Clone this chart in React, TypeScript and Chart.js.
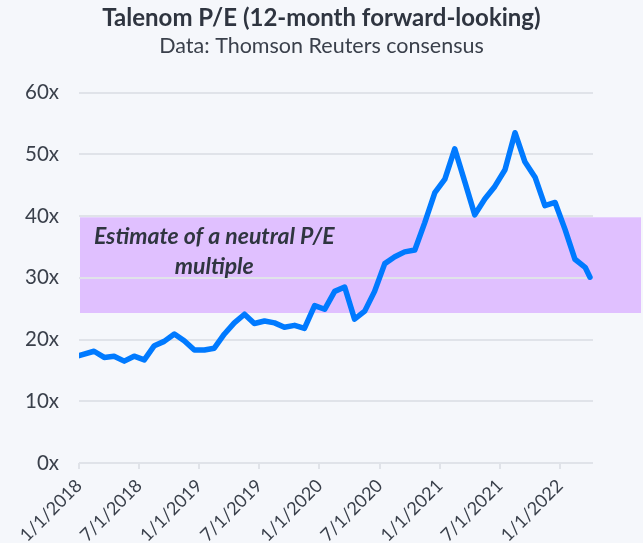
import React, { useEffect, useRef } from "react";
import { Chart, registerables } from "chart.js";

Chart.register(...registerables);

const TITLE = "Talenom P/E (12-month forward-looking)";
const SUBTITLE = "Data: Thomson Reuters consensus";
const BAND_LABEL = ["Estimate of a neutral P/E", "multiple"];
const BAND_RANGE = [24.3, 39.8];

// P/E readings: 1 Jan 2018, then mid-month Feb 2018 .. Mar 2022, then latest value (1 Apr 2022)
const peValues = [
  17.4, 18.1, 17.1, 17.3, 16.5, 17.3, 16.7, 19.0, 19.7, 20.9,
  19.8, 18.3, 18.3, 18.6, 20.9, 22.7, 24.1, 22.6, 23.0, 22.7,
  22.0, 22.3, 21.8, 25.5, 24.9, 27.8, 28.5, 23.3, 24.6, 27.8,
  32.3, 33.4, 34.2, 34.5, 38.9, 43.8, 46.0, 50.9, 45.5, 40.2,
  42.8, 44.8, 47.5, 53.5, 48.8, 46.3, 41.7, 42.2, 37.8, 33.0,
  31.7, 30.1,
];
const FIRST_DATE = "2018-01-01";
const LAST_DATE = "2022-04-01";
const START_YEAR = 2018;

const xTickLabels = [
  "1/1/2018", "7/1/2018", "1/1/2019", "7/1/2019", "1/1/2020",
  "7/1/2020", "1/1/2021", "7/1/2021", "1/1/2022",
];
const xTickMonths = [0, 6, 12, 18, 24, 30, 36, 42, 48];
const X_MAX_MONTH = 51.3;

const yTicks = [0, 10, 20, 30, 40, 50, 60];

const BG = "#F5F7FB";
const BAND_COLOR = "#E0C0FF";
const LINE_COLOR = "#007AFF";
const GRID_COLOR = "#E0E3E9";
const TEXT_DARK = "#2F3540";
const TEXT = "#3A404B";
const FONT = "Lato, 'Open Sans', sans-serif";

function monthOffset(dateStr: string): number {
  const [y, m, d] = dateStr.split("-").map(Number);
  const dim = new Date(y, m, 0).getDate();
  return (y - START_YEAR) * 12 + (m - 1) + (d - 1) / dim;
}

function buildPoints() {
  const pts: { x: number; y: number }[] = [];
  for (let i = 0; i < peValues.length; i++) {
    let dateStr: string;
    if (i === 0) {
      dateStr = FIRST_DATE;
    } else if (i === peValues.length - 1) {
      dateStr = LAST_DATE;
    } else {
      const y = START_YEAR + Math.floor(i / 12);
      const m = (i % 12) + 1;
      const dim = new Date(y, m, 0).getDate();
      const day = Math.round(dim / 2) + 1;
      dateStr = `${y}-${String(m).padStart(2, "0")}-${String(day).padStart(2, "0")}`;
    }
    pts.push({ x: monthOffset(dateStr), y: peValues[i] });
  }
  return pts;
}

const bandPlugin = {
  id: "neutralBand",
  beforeDraw(chart: any) {
    const { ctx, chartArea, scales } = chart;
    const y = scales.y;
    ctx.save();
    ctx.fillStyle = BG;
    ctx.fillRect(0, 0, chart.width, chart.height);
    const top = y.getPixelForValue(BAND_RANGE[1]);
    const bottom = y.getPixelForValue(BAND_RANGE[0]);
    ctx.fillStyle = BAND_COLOR;
    ctx.fillRect(chartArea.left + 1, top, chart.width - 2 - (chartArea.left + 1), bottom - top);
    ctx.restore();
  },
  afterDatasetsDraw(chart: any) {
    const { ctx, scales } = chart;
    const cx = scales.x.getPixelForValue(13.5);
    ctx.save();
    ctx.fillStyle = TEXT_DARK;
    ctx.font = `italic bold 23px ${FONT}`;
    ctx.textAlign = "center";
    ctx.textBaseline = "alphabetic";
    ctx.fillText(BAND_LABEL[0], cx, scales.y.getPixelForValue(35.4));
    ctx.fillText(BAND_LABEL[1], cx, scales.y.getPixelForValue(30.6));
    ctx.restore();
  },
};

export default function App() {
  const canvasRef = useRef<HTMLCanvasElement | null>(null);

  useEffect(() => {
    document.body.style.margin = "0";
    document.body.style.background = BG;
    const canvas = canvasRef.current;
    if (!canvas) return;
    const chart = new Chart(canvas, {
      type: "line",
      data: {
        datasets: [
          {
            data: buildPoints(),
            borderColor: LINE_COLOR,
            borderWidth: 5.5,
            pointRadius: 0,
            tension: 0,
            borderCapStyle: "round",
            borderJoinStyle: "round",
            fill: false,
            clip: { left: 0, right: 4, top: 4, bottom: 4 },
          },
        ],
      },
      options: {
        animation: false,
        responsive: false,
        devicePixelRatio: 1,
        layout: { padding: { left: 0, right: 0, top: 0, bottom: 0 } },
        plugins: {
          legend: { display: false },
          tooltip: { enabled: false },
          title: {
            display: true,
            text: TITLE,
            color: TEXT_DARK,
            font: { family: FONT, size: 24, weight: "bold" },
            padding: { top: 4.2, bottom: 0.6 },
          },
          subtitle: {
            display: true,
            text: SUBTITLE,
            color: TEXT,
            font: { family: FONT, size: 21.5, weight: "normal" },
            padding: { top: 0, bottom: 33.2 },
          },
        },
        scales: {
          x: {
            type: "linear",
            min: 0,
            max: X_MAX_MONTH,
            afterBuildTicks: (scale: any) => {
              scale.ticks = xTickMonths.map((v) => ({ value: v }));
            },
            afterFit: (scale: any) => {
              scale.height = 80;
            },
            ticks: {
              autoSkip: false,
              minRotation: 45,
              maxRotation: 45,
              padding: 6,
              color: TEXT,
              font: { family: FONT, size: 18 },
              callback: (v: any) => {
                const idx = xTickMonths.indexOf(Number(v));
                return idx >= 0 ? xTickLabels[idx] : "";
              },
            },
            grid: {
              drawOnChartArea: false,
              drawTicks: true,
              tickLength: 6,
              color: GRID_COLOR,
              lineWidth: 2,
            },
            border: { display: false },
          },
          y: {
            min: 0,
            max: 60,
            afterBuildTicks: (scale: any) => {
              scale.ticks = yTicks.map((v) => ({ value: v }));
            },
            afterFit: (scale: any) => {
              scale.width = 79;
            },
            ticks: {
              padding: 20,
              color: TEXT,
              font: { family: FONT, size: 20.5 },
              callback: (v: any) => `${v}x`,
            },
            grid: {
              color: GRID_COLOR,
              lineWidth: 2,
              drawTicks: false,
            },
            border: { display: false },
          },
          rightSpace: {
            type: "linear",
            position: "right",
            display: true,
            afterFit: (scale: any) => {
              scale.width = 50;
            },
            ticks: { display: false },
            grid: { display: false, drawTicks: false },
            border: { display: false },
          },
        },
      },
      plugins: [bandPlugin],
    } as any);
    return () => chart.destroy();
  }, []);

  return (
    <div style={{ position: "fixed", left: 0, top: 0, width: 643, height: 543, background: BG }}>
      <canvas ref={canvasRef} width={643} height={543} style={{ display: "block" }} />
    </div>
  );
}
